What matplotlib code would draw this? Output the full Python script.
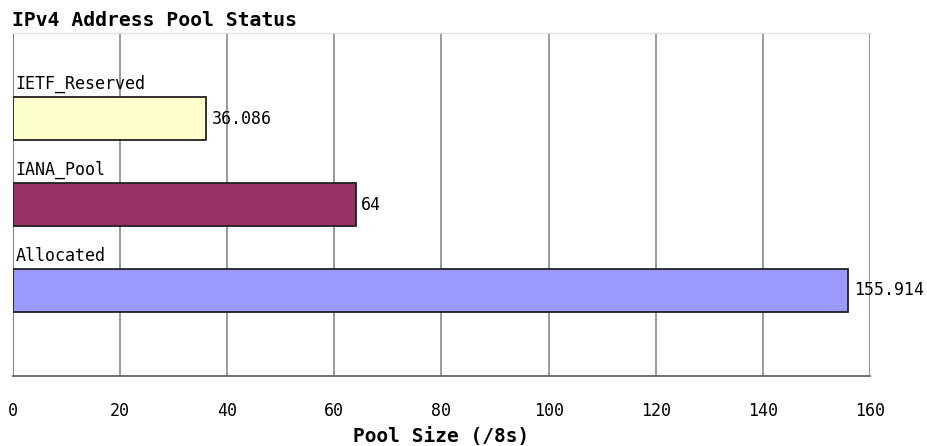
import matplotlib
matplotlib.use("Agg")
import matplotlib.pyplot as plt
import numpy as np

# data
categories = ["IETF_Reserved", "IANA_Pool", "Allocated"]
values = [36.086, 64, 155.914]
value_labels = ["36.086", "64", "155.914"]
colors = ["#FFFFCC", "#993366", "#9999FF"]
xticks = [0, 20, 40, 60, 80, 100, 120, 140, 160]

mono = "DejaVu Sans Mono"

fig = plt.figure(figsize=(9.28, 4.46), dpi=100)
ax = fig.add_axes([13 / 928, 1 - 376 / 446, (870 - 13) / 928, (376 - 33) / 446])

pos = np.arange(len(categories))
ax.barh(pos, values, height=0.5, color=colors, edgecolor="#222222", linewidth=1.3, zorder=3)

for i, (cat, v, lab) in enumerate(zip(categories, values, value_labels)):
    ax.annotate(cat, (0, i - 0.25), xytext=(2, 3), textcoords="offset points",
                ha="left", va="bottom", fontsize=12, family=mono, zorder=4)
    ax.annotate(lab, (v, i), xytext=(4, 0), textcoords="offset points",
                ha="left", va="center", fontsize=12, family=mono, zorder=4)

ax.set_xlim(0, 160)
ax.set_ylim(3, -1)
ax.set_xticks(xticks)
ax.set_xticklabels([str(t) for t in xticks], family=mono, fontsize=12)
ax.set_yticks([])
ax.tick_params(axis="x", length=0, pad=19)
ax.grid(axis="x", color="#888888", linewidth=1.2, zorder=1)

ax.spines["top"].set_color("#dddddd")
ax.spines["right"].set_visible(False)
ax.spines["left"].set_color("#888888")
ax.spines["bottom"].set_color("#666666")
ax.spines["bottom"].set_linewidth(1.3)

ax.set_xlabel("Pool Size (/8s)", family=mono, fontweight="bold", fontsize=14, labelpad=5)
fig.text(12 / 928, 1 - 20 / 446, "IPv4 Address Pool Status", family=mono,
         fontweight="bold", fontsize=14.2, ha="left", va="center")

plt.savefig("out.png", dpi=100)
